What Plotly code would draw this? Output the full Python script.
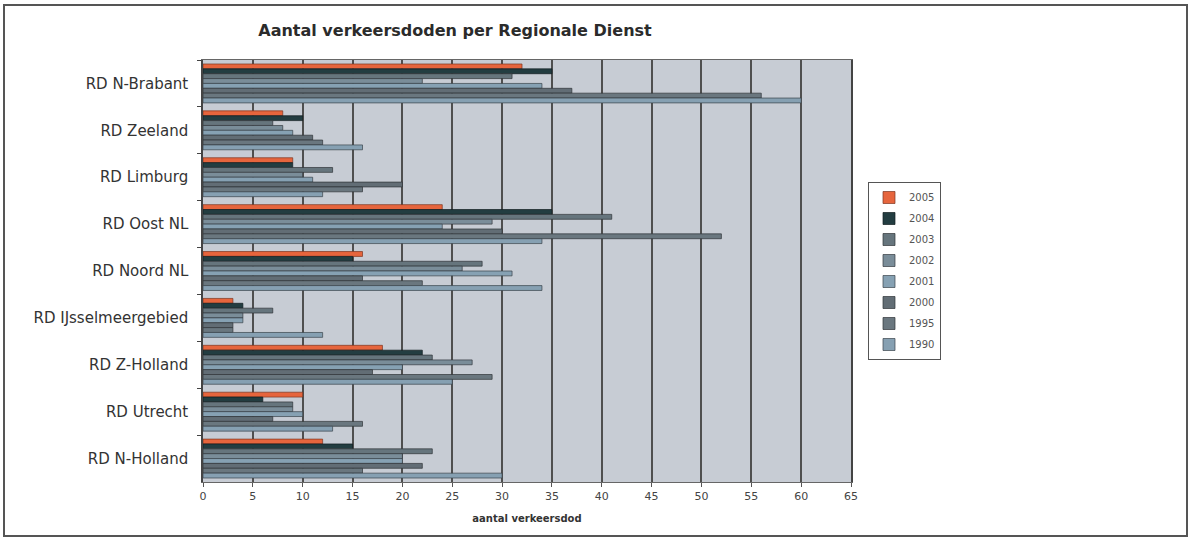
import plotly.graph_objects as go

# Regional services (top to bottom) and years shown per service
regions = ["RD N-Brabant", "RD Zeeland", "RD Limburg", "RD Oost NL", "RD Noord NL",
           "RD IJsselmeergebied", "RD Z-Holland", "RD Utrecht", "RD N-Holland"]
years = ["2005", "2004", "2003", "2002", "2001", "2000", "1995", "1990"]

# Number of road deaths per regional service, one list per year
deaths_2005 = [32, 8, 9, 24, 16, 3, 18, 10, 12]
deaths_2004 = [35, 10, 9, 35, 15, 4, 22, 6, 15]
deaths_2003 = [31, 7, 13, 41, 28, 7, 23, 9, 23]
deaths_2002 = [22, 8, 10, 29, 26, 4, 27, 9, 20]
deaths_2001 = [34, 9, 11, 24, 31, 4, 20, 10, 20]
deaths_2000 = [37, 11, 20, 30, 16, 3, 17, 7, 22]
deaths_1995 = [56, 12, 16, 52, 22, 3, 29, 16, 16]
deaths_1990 = [60, 16, 12, 34, 34, 12, 25, 13, 30]

x_ticks = list(range(0, 70, 5))

series = [deaths_2005, deaths_2004, deaths_2003, deaths_2002,
          deaths_2001, deaths_2000, deaths_1995, deaths_1990]
fills = ["#e6653d", "#233d41", "#66757d", "#7a8d99",
         "#86a1b3", "#626d75", "#6a777f", "#86a0b2"]
edges = ["#7d3520", "#111d1f", "#2f3438", "#333a3f",
         "#3a444b", "#2f3438", "#2f3438", "#3a444b"]

W, H = 1192, 538
L, R, T, B = 203, 851, 60, 482


def px(xp):
    return (xp - L) / (R - L)


def py(yp):
    return (B - yp) / (B - T)


fig = go.Figure()
for yr, vals, fc, ec in zip(years, series, fills, edges):
    fig.add_trace(go.Bar(
        x=vals, y=regions, orientation="h", name=yr, legendgroup=yr,
        marker=dict(color=fc, line=dict(color=ec, width=0.7)),
    ))

font_main = "DejaVu Sans, Verdana, sans-serif"

fig.update_layout(
    width=W, height=H,
    margin=dict(l=L, r=W - R, t=T, b=H - B, pad=0),
    paper_bgcolor="#ffffff",
    plot_bgcolor="#c7ccd4",
    barmode="group",
    bargap=0.17,
    bargroupgap=0,
    font=dict(family=font_main, color="#333333"),
    title=dict(
        text="<b>Aantal verkeersdoden per Regionale Dienst</b>",
        font=dict(family=font_main, size=16, color="#2b2b2b"),
        x=px(455), xref="paper", xanchor="center",
        y=1 - 30 / H, yref="container", yanchor="middle",
    ),
    xaxis=dict(
        range=[0, 65], tickvals=x_ticks, ticktext=[str(t) for t in x_ticks],
        showgrid=True, gridcolor="#4f4f4f", gridwidth=1.8,
        zeroline=False,
        showline=True, linecolor="#666666", linewidth=1, mirror=True,
        ticks="outside", ticklen=4, tickcolor="#555555",
        tickfont=dict(size=11, color="#444444"),
        title=dict(text="<b>aantal verkeersdod</b>",
                   font=dict(size=10, color="#333333"), standoff=12),
    ),
    yaxis=dict(
        autorange="reversed",
        showgrid=False, zeroline=False,
        showline=True, linecolor="#444444", linewidth=1.5, mirror=True,
        ticks="outside", tickson="boundaries", ticklen=4, tickcolor="#444444",
        tickfont=dict(size=15, color="#333333"),
        ticklabelstandoff=10,
    ),
    legend=dict(
        x=px(868), y=py(182), xanchor="left", yanchor="top",
        bgcolor="#ffffff", bordercolor="#555555", borderwidth=1,
        font=dict(size=10, color="#555555"),
        traceorder="grouped", tracegroupgap=2,
        itemwidth=30,
    ),
    showlegend=True,
)

# Outer frame around the whole chart
fig.add_shape(type="rect", xref="paper", yref="paper",
              x0=px(4), x1=px(1187), y0=py(536), y1=py(5),
              line=dict(color="#555555", width=2), fillcolor="rgba(0,0,0,0)",
              layer="above")

fig.write_html("out.html")
